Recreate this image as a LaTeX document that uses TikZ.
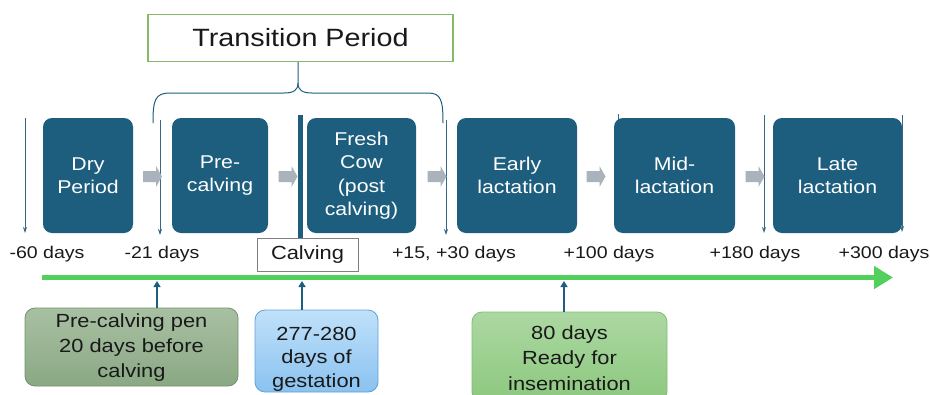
\documentclass[tikz,border=0pt]{standalone}
\usepackage{fontspec}
\setmainfont[FakeStretch=1.15]{Liberation Sans}
\usetikzlibrary{arrows.meta}
\definecolor{teal1}{RGB}{29,94,126}
\definecolor{teal2}{RGB}{55,105,135}
\definecolor{greyA}{RGB}{170,178,188}
\definecolor{green1}{RGB}{82,208,92}
\definecolor{tgreen}{RGB}{135,185,105}
\definecolor{penTop}{RGB}{168,192,162}
\definecolor{penBot}{RGB}{138,168,132}
\definecolor{penBd}{RGB}{115,145,110}
\definecolor{gesTop}{RGB}{192,225,250}
\definecolor{gesBot}{RGB}{138,194,240}
\definecolor{gesBd}{RGB}{95,160,215}
\definecolor{insTop}{RGB}{172,216,162}
\definecolor{insBot}{RGB}{140,200,126}
\definecolor{insBd}{RGB}{130,188,118}
\definecolor{txt}{RGB}{25,25,25}
\begin{document}
\begin{tikzpicture}[x=1pt,y=-1pt,
  phase/.style={rectangle, rounded corners=9pt, fill=teal1, text=white, inner sep=0pt,
    minimum height=115pt, align=center, font=\fontsize{18.5}{23.5}\selectfont},
  blkarrow/.pic={\fill[greyA] (-9.5,-5.5) -- (3.5,-5.5) -- (3.5,-10.5) -- (9.5,0)
      -- (3.5,10.5) -- (3.5,5.5) -- (-9.5,5.5) -- cycle;},
  dn/.style={draw=teal2, line width=1pt, -{Stealth[length=6pt,width=4pt]}},
  upar/.style={draw=teal1, line width=2pt, -{Triangle[length=6pt,width=7pt]}},
  daylab/.style={font=\fontsize{17}{20}\selectfont, inner sep=0pt, anchor=base, text=txt},
  bbox/.style={rectangle, rounded corners=10pt, inner sep=0pt, line width=0.8pt},
  btext/.style={align=center, inner sep=0pt, text=txt, font=\fontsize{19}{25}\selectfont}
]
\useasboundingbox (0,0) rectangle (930,394);

% thin vertical day markers (drawn first, boxes may cover them)
\coordinate (d1a) at (25,118);  \coordinate (d1b) at (25,233);
\coordinate (d2a) at (160,120); \coordinate (d2b) at (160,235);
\coordinate (d3a) at (446,120); \coordinate (d3b) at (446,235);
\coordinate (d4a) at (618,114); \coordinate (d4b) at (618,232);
\coordinate (d5a) at (764,115); \coordinate (d5b) at (764,233);
\coordinate (d6a) at (902,115); \coordinate (d6b) at (902,232);
\foreach \i in {1,...,6} { \draw[dn] (d\i a) -- (d\i b); }

% phase boxes
\node[phase, minimum width=90pt]  (dry)   at (88,175.5)   {Dry\\Period};
\node[phase, minimum width=96pt]  (pre)   at (220,175.5)  {Pre-\\calving};
\node[phase, minimum width=109pt] (fresh) at (361.5,175.5) {Fresh\\Cow\\(post\\calving)};
\node[phase, minimum width=120pt] (early) at (517,175.5)  {Early\\lactation};
\node[phase, minimum width=121pt] (mid)   at (674.5,175.5) {Mid-\\lactation};
\node[phase, minimum width=129pt] (late)  at (837.5,175.5) {Late\\lactation};

% grey block arrows
\pic at (152.5,176.5) {blkarrow};
\pic at (288,176.5) {blkarrow};
\pic at (437,176.5) {blkarrow};
\pic at (596,176.5) {blkarrow};
\pic at (755,176.5) {blkarrow};

% transition period box and brace
\node[draw=tgreen, line width=1.4pt, fill=white, minimum width=305pt, minimum height=47pt,
      inner sep=0pt, font=\fontsize{25}{30}\selectfont, text=txt] (tp) at (300.5,38) {Transition Period};
\draw[teal1, line width=1pt] (153,123) .. controls (153,100) and (155,93) .. (170,93)
  -- (284,93) .. controls (294,93) and (298,90) .. (298,83) -- (tp.south -| 298,0);
\draw[teal1, line width=1pt] (298,83) .. controls (298,90) and (302,93) .. (312,93)
  -- (428,93) .. controls (441,93) and (443,100) .. (443,123);

% calving bar and box
\node[draw=gray, line width=0.8pt, fill=white, minimum width=101pt, minimum height=33pt,
      inner sep=0pt, font=\fontsize{19}{22}\selectfont, text=txt] (calv) at (307.5,254.5) {Calving};
\coordinate (bartop) at (300.5,115);
\draw[teal1, line width=5pt] (bartop) -- (bartop |- calv.north);

% day labels
\node[daylab] (l1) at (47,258)  {-60 days};
\node[daylab] (l2) at (162,258) {-21 days};
\node[daylab] (l3) at (454,258) {+15, +30 days};
\node[daylab] (l4) at (609,258) {+100 days};
\node[daylab] (l5) at (755,258) {+180 days};
\node[daylab] (l6) at (884,258) {+300 days};

% green timeline
\coordinate (gs) at (42,277.5);
\coordinate (ge) at (893,277.5);
\draw[green1, line width=5pt, -{Triangle[length=19pt,width=22pt]}] (gs) -- (ge);

% bottom boxes
\node[bbox, draw=penBd, top color=penTop, bottom color=penBot, minimum width=213pt, minimum height=78pt] (pen) at (131.5,347) {};
\node[btext] (pent) at (131.5,348) {Pre-calving pen\\20 days before\\calving};
\node[bbox, draw=gesBd, top color=gesTop, bottom color=gesBot, minimum width=123pt, minimum height=82pt] (ges) at (316.5,351) {};
\node[btext, font=\fontsize{19}{23.5}\selectfont] (gest) at (316.5,359) {277-280\\days of\\gestation};
\node[bbox, draw=insBd, top color=insTop, bottom color=insBot, minimum width=195pt, minimum height=90pt] (ins) at (569.5,357) {};
\node[btext, font=\fontsize{19}{25.5}\selectfont] (inst) at (569.5,358) {80 days\\Ready for\\insemination};

% up arrows
\coordinate (u1) at (157,281);
\coordinate (u2) at (302,281);
\coordinate (u3) at (564,281);
\draw[upar] (pen.north -| u1) -- (u1);
\draw[upar] (ges.north -| u2) -- (u2);
\draw[upar] (ins.north -| u3) -- (u3);
\end{tikzpicture}
\end{document}
